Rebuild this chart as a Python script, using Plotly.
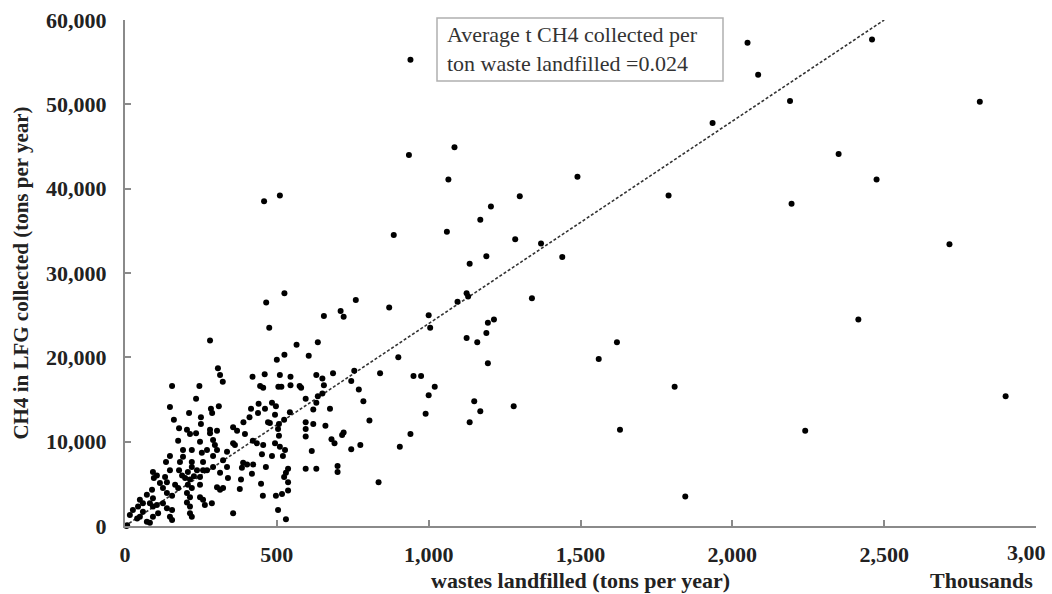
import plotly.graph_objects as go

# wastes landfilled (thousand tons per year) and CH4 collected (tons per year)
points = [
    (940,55300),(2050,57300),(2085,53500),(2460,57700),(1935,47800),(2190,50400),(2815,50300),
    (1490,41400),(1790,39200),(2350,44100),(2475,41100),(2195,38200),(2715,33400),(1440,31900),
    (2415,24500),(1620,21800),(1560,19800),(1810,16500),(1630,11400),(2240,11300),(2900,15400),(1845,3500),
    (935,44000),(1085,44900),(1065,41100),(1300,39100),(1205,37900),(1170,36300),(885,34500),(1060,34900),
    (1285,34000),(1370,33500),(1190,32000),(1135,31100),(1125,27600),(1095,26600),(1130,27200),(1340,27000),
    (870,25900),(1000,25000),(1005,23500),(1125,22300),(1160,21800),(1190,22900),(1195,24100),(1215,24500),
    (900,20000),(1195,19300),(950,17800),(975,17800),(1020,16500),(1000,15500),(990,13300),(1150,14800),
    (1170,13600),(1135,12300),(1280,14200),(940,10900),(905,9400),(835,5200),(840,18100),
    (458,38500),(510,39200),
    (525,27600),(465,26500),(475,23500),(760,26800),(655,24900),(710,25500),(720,24800),(635,21800),
    (565,21500),(605,20200),(525,20300),(500,19700),(420,17700),(460,18000),(510,17900),(545,17700),
    (445,16600),(455,16400),(505,16500),(515,16500),(545,16700),(575,16600),(580,16400),(630,17900),
    (650,17500),(685,18100),(655,16700),(650,15700),(755,18400),(745,17200),(770,16200),(785,14800),
    (595,15100),(630,14600),(635,15400),(675,13900),(620,13800),(805,12500),(595,12300),(620,12100),
    (660,11900),(595,11500),(595,10600),(680,10300),(690,9800),(720,11100),(715,10800),(775,9600),
    (745,9100),(615,8900),(595,6800),(630,6800),(700,7100),(700,6400),
    (390,12300),(415,13900),(440,14500),(410,12900),(438,13400),(461,13900),(484,14600),(497,14200),
    (494,13200),(471,12300),(477,12200),(507,12100),(524,12600),(543,13500),(504,11500),(507,10700),
    (395,10900),(421,10100),(434,9800),(455,9600),(494,9800),(510,9400),(527,9000),(451,8500),
    (484,8300),(520,8300),(389,7500),(402,7300),(422,7300),(385,6900),(464,7000),(537,6800),
    (530,6300),(418,6200),(382,5500),(524,5800),(537,5200),(448,5000),(378,4400),(537,4200),
    (517,3800),(497,3600),(454,3600),(504,1900),(530,800),
    (155,16600),(245,16600),(306,18700),(313,17900),(322,17100),(280,22000),(234,15100),(148,14100),
    (211,13400),(283,13900),(287,13400),(309,14200),(161,12600),(250,12900),(250,12100),(178,11600),
    (204,11400),(214,10900),(234,11000),(280,11400),(280,11000),(303,11300),(356,11700),(369,11300),
    (175,10100),(247,10000),(290,10200),(296,9600),(356,9800),(362,9600),(303,9000),(270,9000),
    (220,9000),(191,9000),(253,8700),(148,8300),(191,8200),(290,8300),(336,8800),(135,7600),
    (181,7600),(220,7600),(257,7600),(323,7800),(290,7000),(336,7000),(220,7000),(237,6600),
    (207,6400),(178,6600),(188,6000),(148,6600),(270,6600),(92,6400),(105,6000),(95,5700),
    (132,5800),(138,5200),(198,5700),(214,5500),(227,5900),(247,5800),(257,6600),(313,6300),
    (339,5700),(115,5100),(125,4500),(165,4900),(175,4500),(207,4900),(220,4500),(247,4900),
    (303,4600),(313,4300),(323,4500),(138,3900),(155,3600),(89,4300),(72,3700),(92,3300),
    (204,3900),(214,3400),(247,3400),(257,3100),(286,2700),(49,3100),(59,2700),(43,2300),
    (82,2700),(92,2300),(105,2500),(125,2700),(138,2100),(204,2800),(214,2300),(155,1900),
    (148,1100),(155,700),(109,1500),(92,1100),(59,1700),(49,1100),(40,900),(26,1900),
    (16,1300),(72,500),(82,400),(7,100),(214,1500),(220,1100),(356,1500),(263,2500),(5,0),
]
waste_kt = [p[0] for p in points]
ch4_t = [p[1] for p in points]

SLOPE = 0.024  # t CH4 per t waste
trend_x = [0, 2500]
trend_y = [v * 1000 * SLOPE for v in trend_x]

x_tickvals = [0, 500, 1000, 1500, 2000, 2500, 3000]
x_ticktext = ["0", "500", "1,000", "1,500", "2,000", "2,500", ""]
x_last_label = "3,00"   # shown cut-off at the right edge in the reference
y_tickvals = [0, 10000, 20000, 30000, 40000, 50000, 60000]

serif = "Liberation Serif, Times New Roman, serif"
bold_font = lambda s: dict(family=serif, size=s, color="#222222", weight="bold")

fig = go.Figure()
fig.add_trace(go.Scatter(x=trend_x, y=trend_y, mode="lines",
                         line=dict(color="#333333", width=1.6, dash="3px,2px"),
                         hoverinfo="skip", showlegend=False))
fig.add_trace(go.Scatter(x=waste_kt, y=ch4_t, mode="markers",
                         marker=dict(color="black", size=6),
                         cliponaxis=False, showlegend=False))

axis_common = dict(showgrid=False, zeroline=False, showline=True, linecolor="#8a8a8a",
                   linewidth=2, ticks="inside", ticklen=6, tickwidth=1.5, tickcolor="#8a8a8a",
                   tickfont=bold_font(22), automargin=False, ticklabeloverflow="allow")

PL, PR, PT, PB = 125, 16, 20, 68
PW, PH = 1052 - PL - PR, 594 - PT - PB

fig.update_layout(
    width=1052, height=594,
    margin=dict(l=PL, r=PR, t=PT, b=PB),
    plot_bgcolor="white", paper_bgcolor="white",
    xaxis=dict(range=[0, 3000], tickvals=x_tickvals, ticktext=x_ticktext,
               ticklabelstandoff=8, **axis_common),
    yaxis=dict(range=[0, 60000], tickvals=y_tickvals, tickformat=",d",
               ticklabelstandoff=12,
               title=dict(text="CH4 in LFG collected (tons per year)",
                          font=bold_font(21), standoff=12),
               **axis_common),
    shapes=[dict(type="rect", xref="paper", yref="paper",
                 x0=(437-PL)/PW, x1=(723-PL)/PW, y0=(526-81)/PH, y1=(526-18)/PH,
                 line=dict(color="#b0b0b0", width=1.5), fillcolor="white", layer="above")],
    annotations=[
        dict(xref="paper", yref="paper", x=(445-PL)/PW, y=(526-49)/PH,
             xanchor="left", yanchor="middle", align="left", showarrow=False,
             text="Average t CH4 collected per<br>ton waste landfilled =0.024",
             font=dict(family=serif, size=22, color="#333333")),
        dict(xref="x", yref="paper", x=x_tickvals[-1], xshift=12, y=-(552-526)/PH,
             xanchor="right", yanchor="middle", showarrow=False,
             text=x_last_label, font=bold_font(22)),
        dict(xref="paper", yref="paper", x=0.5, y=-(580-526)/PH,
             xanchor="center", yanchor="middle", showarrow=False,
             text="wastes landfilled (tons per year)", font=bold_font(22)),
        dict(xref="paper", yref="paper", x=(981-PL)/PW, y=-(580-526)/PH,
             xanchor="center", yanchor="middle", showarrow=False,
             text="Thousands", font=bold_font(22)),
    ],
)

fig.write_html("out.html", config={"displayModeBar": False},
               post_script="document.body.style.margin='0';document.body.style.overflow='hidden';")
